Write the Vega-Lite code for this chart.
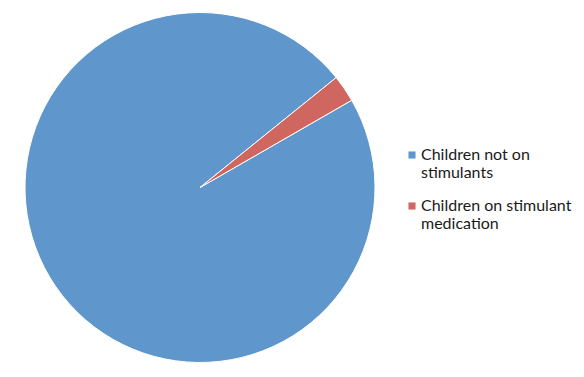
{
  "$schema": "https://vega.github.io/schema/vega-lite/v6.json",
  "width": 400,
  "height": 375,
  "autosize": {"type": "none"},
  "padding": {"left": 0, "top": 0, "right": 184, "bottom": 2},
  "background": "white",
  "data": {
    "values": [
      {"group": "Children not on stimulants", "share": 97.5},
      {"group": "Children on stimulant medication", "share": 2.5}
    ]
  },
  "mark": {"type": "arc", "outerRadius": 175, "stroke": "white", "strokeWidth": 1},
  "encoding": {
    "theta": {
      "field": "share",
      "type": "quantitative",
      "stack": true,
      "scale": {"range": [1.049, 7.332]}
    },
    "color": {
      "field": "group",
      "type": "nominal",
      "scale": {
        "domain": ["Children not on stimulants", "Children on stimulant medication"],
        "range": ["#5f97cd", "#cf6660"]
      },
      "legend": {
        "title": null,
        "orient": "none",
        "legendX": 404,
        "legendY": 147,
        "symbolType": "square",
        "symbolSize": 50,
        "symbolStrokeWidth": 0,
        "labelFont": "Lato",
        "labelFontSize": 16,
        "labelLineHeight": 19,
        "labelColor": "#1a1a1a",
        "labelOffset": 1,
        "labelLimit": 300,
        "rowPadding": 17,
        "labelExpr": "datum.label == 'Children not on stimulants' ? ['Children not on', 'stimulants'] : ['Children on stimulant', 'medication']"
      }
    }
  },
  "config": {"view": {"stroke": null}}
}
